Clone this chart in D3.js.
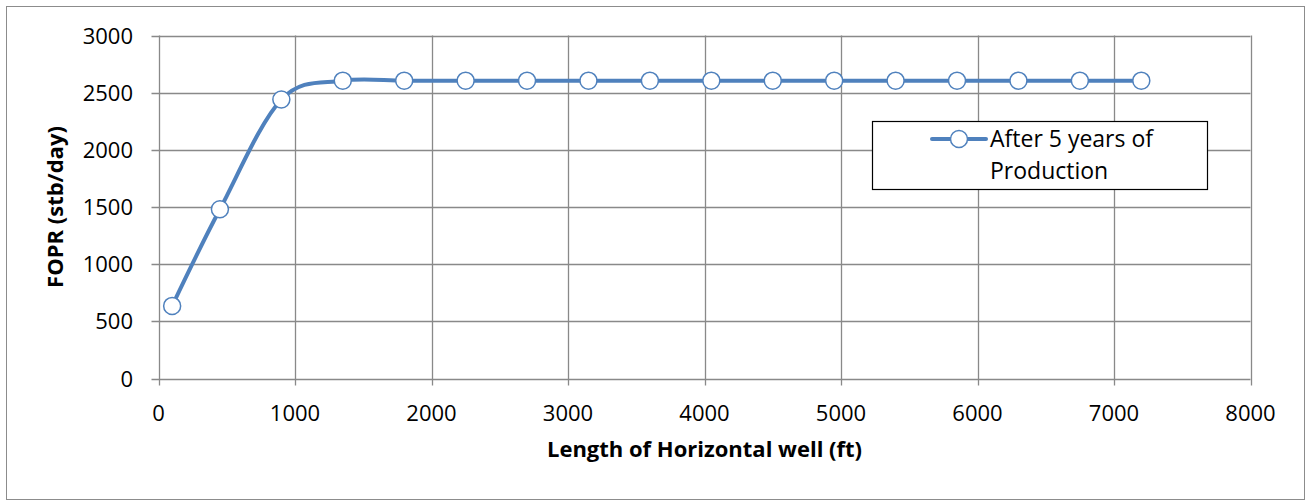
<!DOCTYPE html>
<html>
<head>
<meta charset="utf-8">
<script src="https://cdnjs.cloudflare.com/ajax/libs/d3/7.8.5/d3.min.js"></script>
<style>
	body { margin: 0; background: #fff; }
	text { font-family: "Open Sans", sans-serif; fill: #000; }
</style>
</head>
<body>
<svg id="svgChart" width="1314" height="502"></svg>
<script>
// Chart data
var lengths = [100, 450, 900, 1350, 1800, 2250, 2700, 3150, 3600, 4050, 4500, 4950, 5400, 5850, 6300, 6750, 7200];
var fopr = [635, 1480, 2440, 2605, 2605, 2605, 2605, 2605, 2605, 2605, 2605, 2605, 2605, 2605, 2605, 2605, 2605];
var xTicks = [0, 1000, 2000, 3000, 4000, 5000, 6000, 7000, 8000];
var yTicks = [0, 500, 1000, 1500, 2000, 2500, 3000];
var seriesName = ["After 5 years of", "Production"];
var xTitle = "Length of Horizontal well (ft)";
var yTitle = "FOPR (stb/day)";

var chart = [];
chart.lineColor = "#4f81bd";
chart.gridColor = "#898989";

chart.draw = () => {
	let svg = d3.select("#svgChart");

	// Outer frame
	svg.append("rect")
		.attr("x", 6.5).attr("y", 6.5)
		.attr("width", 1298).attr("height", 493)
		.attr("fill", "#fff")
		.attr("stroke", "#8c8c8c")
		.attr("stroke-width", 1);

	// Scales
	let x = d3.scaleLinear().domain([0, 8000]).range([158.5, 1250.5]),
		y = d3.scaleLinear().domain([0, 3000]).range([378.5, 35.5]);

	// Horizontal gridlines + ticks
	svg.append("g").selectAll("line")
		.data(yTicks)
		.enter()
		.append("line")
		.attr("x1", x(0) - 7).attr("x2", x(8000))
		.attr("y1", d => Math.round(y(d)) + 0.5).attr("y2", d => Math.round(y(d)) + 0.5)
		.attr("stroke", chart.gridColor)
		.attr("stroke-width", 1.3);

	// Vertical gridlines + ticks
	svg.append("g").selectAll("line")
		.data(xTicks)
		.enter()
		.append("line")
		.attr("x1", d => Math.round(x(d)) + 0.5).attr("x2", d => Math.round(x(d)) + 0.5)
		.attr("y1", y(3000)).attr("y2", y(0) + 7)
		.attr("stroke", chart.gridColor)
		.attr("stroke-width", 1.3);

	// Y tick labels
	svg.append("g").selectAll("text")
		.data(yTicks)
		.enter()
		.append("text")
		.attr("x", 133)
		.attr("y", d => y(d) + 8)
		.attr("text-anchor", "end")
		.style("font-size", "22px")
		.text(d => d);

	// X tick labels
	svg.append("g").selectAll("text")
		.data(xTicks)
		.enter()
		.append("text")
		.attr("x", d => x(d))
		.attr("y", 421)
		.attr("text-anchor", "middle")
		.style("font-size", "22px")
		.text(d => d);

	// Axis titles
	svg.append("text")
		.attr("x", (x(0) + x(8000)) / 2)
		.attr("y", 457)
		.attr("text-anchor", "middle")
		.style("font-size", "22px")
		.style("font-weight", "bold")
		.text(xTitle);

	svg.append("text")
		.attr("transform", "translate(63," + ((y(0) + y(3000)) / 2) + ") rotate(-90)")
		.attr("text-anchor", "middle")
		.style("font-size", "22px")
		.style("font-weight", "bold")
		.text(yTitle);

	// Series line
	let pts = lengths.map((d, i) => [d, fopr[i]]);
	let line = d3.line()
		.x(d => x(d[0]))
		.y(d => y(d[1]))
		.curve(d3.curveCardinal.tension(0));

	svg.append("path")
		.datum(pts)
		.attr("d", line)
		.attr("fill", "none")
		.attr("stroke", chart.lineColor)
		.attr("stroke-width", 4);

	svg.append("g").selectAll("circle")
		.data(pts)
		.enter()
		.append("circle")
		.attr("cx", d => x(d[0]))
		.attr("cy", d => y(d[1]))
		.attr("r", 8.5)
		.attr("fill", "#fff")
		.attr("stroke", chart.lineColor)
		.attr("stroke-width", 1.5);

	// Legend
	let legend = svg.append("g");
	legend.append("rect")
		.attr("x", 872.5).attr("y", 121.5)
		.attr("width", 335).attr("height", 68)
		.attr("fill", "#fff")
		.attr("stroke", "#000")
		.attr("stroke-width", 1.2);
	legend.append("line")
		.attr("x1", 932).attr("x2", 986)
		.attr("y1", 139).attr("y2", 139)
		.attr("stroke", chart.lineColor)
		.attr("stroke-width", 4)
		.attr("stroke-linecap", "round");
	legend.append("circle")
		.attr("cx", 959).attr("cy", 139).attr("r", 8.5)
		.attr("fill", "#fff")
		.attr("stroke", chart.lineColor)
		.attr("stroke-width", 1.5);
	legend.selectAll(".lg")
		.data(seriesName)
		.enter()
		.append("text")
		.attr("class", "lg")
		.attr("x", 990)
		.attr("y", (d, i) => 147 + i * 32)
		.style("font-size", "23px")
		.text(d => d);
}

chart.draw();
</script>
</body>
</html>
